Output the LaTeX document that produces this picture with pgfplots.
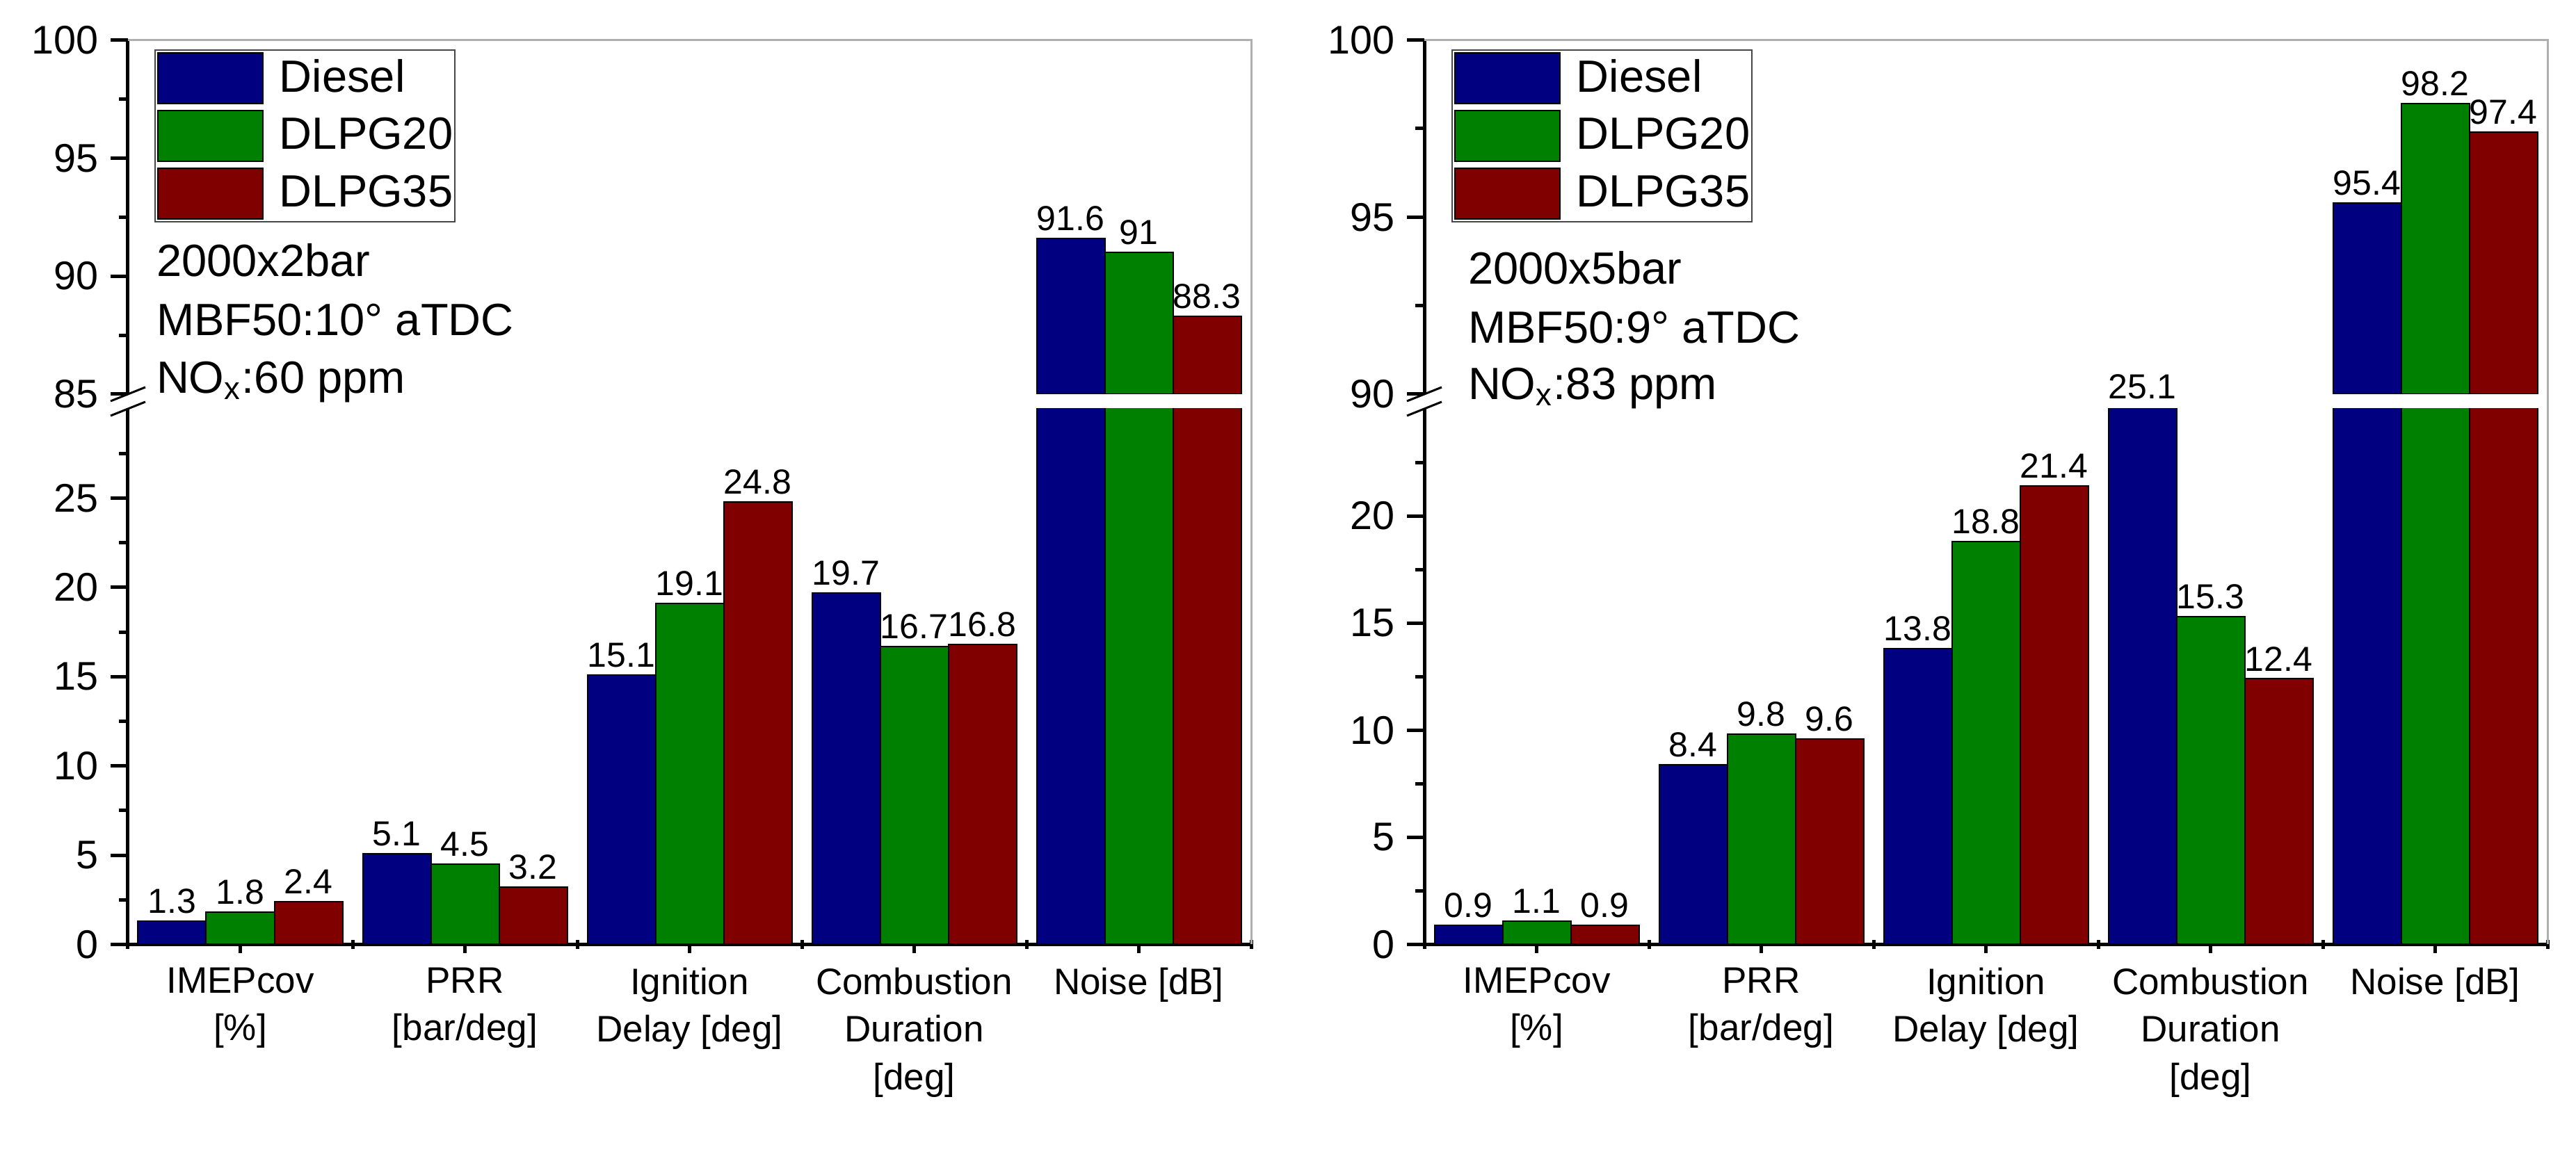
\documentclass[border=0pt]{standalone}
\usepackage{pgfplots}
\pgfplotsset{compat=1.18}
\usepackage{pgfplotstable}
\usepackage{fontspec}
\setmainfont{Liberation Sans}
\definecolor{cD}{RGB}{0,0,128}
\definecolor{cG}{RGB}{0,128,0}
\definecolor{cR}{RGB}{128,0,0}
\definecolor{bordergray}{RGB}{175,175,175}
\definecolor{legframe}{RGB}{70,70,70}

% 2000x2bar
\pgfplotstableread{
x d g r
1 1.3 1.8 2.4
2 5.1 4.5 3.2
3 15.1 19.1 24.8
4 19.7 16.7 16.8
5 91.6 91 88.3
}\dataA
% 2000x5bar
\pgfplotstableread{
x d g r
1 0.9 1.1 0.9
2 8.4 9.8 9.6
3 13.8 18.8 21.4
4 25.1 15.3 12.4
5 95.4 98.2 97.4
}\dataB

\pgfplotsset{
  base/.style={
    scale only axis, width=323pt, xmin=0.5, xmax=5.5,
    clip mode=individual, ybar, bar width=19.6pt,
    axis y line=left,
    tick align=outside, major tick length=5pt, minor tick length=2.6pt,
    every tick/.style={black, line width=1pt},
    yticklabel style={font=\fontsize{11.5}{13}\selectfont},
    /pgf/number format/assume math mode=true,
    every node near coord/.append style={font=\fontsize{10}{12}\selectfont, inner sep=2pt, black},
  },
  lower/.style={base, height=154.1pt, ymin=0, axis x line=bottom,
    axis line style={-, line width=1pt, black},
    xtick={1,...,5}, minor xtick={0.5,1.5,...,5.5},
    xticklabels={IMEPcov\\{[\%]}, PRR\\{[bar/deg]}, Ignition\\{Delay [deg]}, Combustion\\{Duration}\\{[deg]}, Noise [dB]},
    xticklabel style={align=center, font=\fontsize{10.6}{13.7}\selectfont, inner sep=4pt},
  },
  labels/.style={base, height=154.1pt, ymin=0, hide axis, clip=false},
  upper/.style={base, height=101.9pt, ymax=100, axis x line=none,
    axis line style={-, line width=1pt, black},
    legend style={draw=legframe, line width=0.4pt, inner sep=0.6pt, row sep=1.6pt, column sep=4.6pt,
      font=\fontsize{13}{15}\selectfont, nodes={inner sep=0pt}, anchor=north west},
    legend cell align=left,
    legend image code/.code={\draw[#1,/tikz/.cd] (0pt,-7.3pt) rectangle (30.2pt,7.3pt);},
  },
  pD/.style={fill=cD, draw=black, line width=0.4pt, bar shift=-19.6pt},
  pG/.style={fill=cG, draw=black, line width=0.4pt, bar shift=0pt},
  pR/.style={fill=cR, draw=black, line width=0.4pt, bar shift=19.6pt},
  lab/.style={draw=none, fill=none, nodes near coords, restrict x to domain=0.5:4.5},
  last/.style={restrict x to domain=4.5:5.5},
}

\begin{document}
\begin{tikzpicture}
\useasboundingbox (0,0) rectangle (740.8pt,334pt);

% ---------- left panel, lower part ----------
\begin{axis}[lower, at={(36.8pt,62.3pt)}, anchor=south west,
  ymax=30, ytick={0,5,...,25}, minor ytick={2.5,7.5,...,27.5}]
\addplot[pD] table[x=x,y=d]{\dataA};
\addplot[pG] table[x=x,y=g]{\dataA};
\addplot[pR] table[x=x,y=r]{\dataA};
\draw[bordergray, line width=0.6pt] (rel axis cs:1,0) -- ([yshift=4.3pt]rel axis cs:1,1);
\draw[line width=0.6pt] ([xshift=-5pt,yshift=-2pt]rel axis cs:0,1) -- ([xshift=5pt,yshift=2pt]rel axis cs:0,1);
\end{axis}
% value labels of the lower part (not clipped)
\begin{axis}[labels, at={(36.8pt,62.3pt)}, anchor=south west, ymax=30]
\addplot[pD, lab] table[x=x,y=d]{\dataA};
\addplot[pG, lab] table[x=x,y=g]{\dataA};
\addplot[pR, lab] table[x=x,y=r]{\dataA};
\end{axis}

% ---------- left panel, upper part ----------
\begin{axis}[upper, at={(36.8pt,220.6pt)}, anchor=south west,
  ymin=85, ytick={85,90,95,100}, minor ytick={87.5,92.5,97.5},
  legend style={at={(0.0235,0.9725)}}]
\addplot[pD, last, nodes near coords] table[x=x,y=d]{\dataA};
\addplot[pG, last, nodes near coords] table[x=x,y=g]{\dataA};
\addplot[pR, last, nodes near coords] table[x=x,y=r]{\dataA};
\legend{Diesel,DLPG20,DLPG35}
\draw[bordergray, line width=0.6pt] (rel axis cs:0,1) -- (rel axis cs:1,1) -- (rel axis cs:1,0);
\draw[line width=0.6pt] ([xshift=-5pt,yshift=-2pt]rel axis cs:0,0) -- ([xshift=5pt,yshift=2pt]rel axis cs:0,0);
\node[anchor=base west, font=\fontsize{13}{15}\selectfont, inner sep=0pt] at (rel axis cs:0.0248,0.3327) {2000x2bar};
\node[anchor=base west, font=\fontsize{13}{15}\selectfont, inner sep=0pt] at (rel axis cs:0.0248,0.1658) {MBF50:10° aTDC};
\node[anchor=base west, font=\fontsize{13}{15}\selectfont, inner sep=0pt] at (rel axis cs:0.0248,0.0029) {NO\textsubscript{x}:60 ppm};
\end{axis}

% ---------- right panel, lower part ----------
\begin{axis}[lower, at={(409.6pt,62.3pt)}, anchor=south west,
  ymax=25, ytick={0,5,...,20}, minor ytick={2.5,7.5,...,22.5}]
\addplot[pD] table[x=x,y=d]{\dataB};
\addplot[pG] table[x=x,y=g]{\dataB};
\addplot[pR] table[x=x,y=r]{\dataB};
\draw[bordergray, line width=0.6pt] (rel axis cs:1,0) -- ([yshift=4.3pt]rel axis cs:1,1);
\draw[line width=0.6pt] ([xshift=-5pt,yshift=-2pt]rel axis cs:0,1) -- ([xshift=5pt,yshift=2pt]rel axis cs:0,1);
\end{axis}
\begin{axis}[labels, at={(409.6pt,62.3pt)}, anchor=south west, ymax=25]
\addplot[pD, lab] table[x=x,y=d]{\dataB};
\addplot[pG, lab] table[x=x,y=g]{\dataB};
\addplot[pR, lab] table[x=x,y=r]{\dataB};
\end{axis}

% ---------- right panel, upper part ----------
\begin{axis}[upper, at={(409.6pt,220.6pt)}, anchor=south west,
  ymin=90, ytick={90,95,100}, minor ytick={92.5,97.5},
  legend style={at={(0.0241,0.9725)}}]
\addplot[pD, last, nodes near coords] table[x=x,y=d]{\dataB};
\addplot[pG, last, nodes near coords] table[x=x,y=g]{\dataB};
\addplot[pR, last, nodes near coords] table[x=x,y=r]{\dataB};
\legend{Diesel,DLPG20,DLPG35}
\draw[bordergray, line width=0.6pt] (rel axis cs:0,1) -- (rel axis cs:1,1) -- (rel axis cs:1,0);
\draw[line width=0.6pt] ([xshift=-5pt,yshift=-2pt]rel axis cs:0,0) -- ([xshift=5pt,yshift=2pt]rel axis cs:0,0);
\node[anchor=base west, font=\fontsize{13}{15}\selectfont, inner sep=0pt] at (rel axis cs:0.0384,0.311) {2000x5bar};
\node[anchor=base west, font=\fontsize{13}{15}\selectfont, inner sep=0pt] at (rel axis cs:0.0384,0.144) {MBF50:9° aTDC};
\node[anchor=base west, font=\fontsize{13}{15}\selectfont, inner sep=0pt] at (rel axis cs:0.0384,-0.0147) {NO\textsubscript{x}:83 ppm};
\end{axis}
\end{tikzpicture}
\end{document}
